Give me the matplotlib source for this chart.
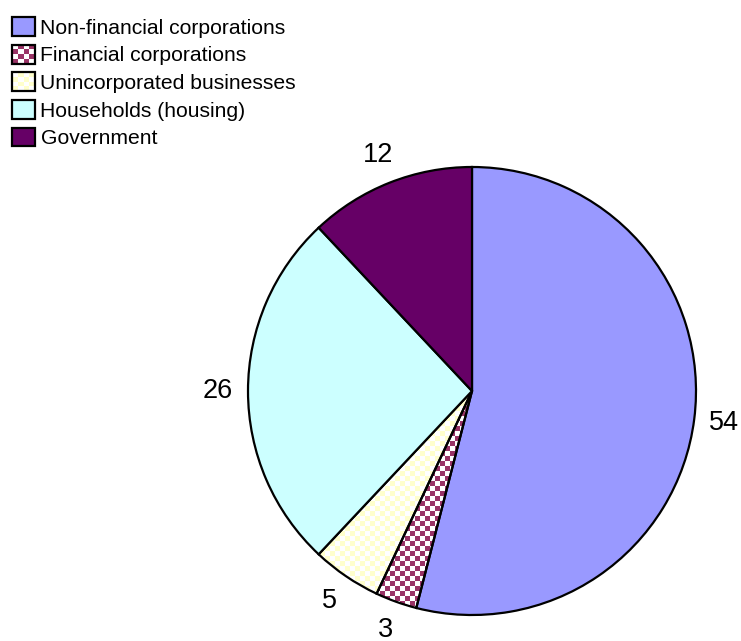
import numpy as np
import matplotlib
matplotlib.use("Agg")
import matplotlib.pyplot as plt
from matplotlib.patches import Patch, Rectangle
from matplotlib.legend_handler import HandlerBase
from matplotlib.colors import ListedColormap

plt.rcParams['font.family'] = ['Liberation Sans', 'DejaVu Sans']

categories = ['Non-financial corporations', 'Financial corporations',
              'Unincorporated businesses', 'Households (housing)', 'Government']
values = [54, 3, 5, 26, 12]
colors = ['#9999FF', '#993366', '#FFFFCC', '#CCFFFF', '#660066']
checker_bg = [None, '#FFFFFF', '#FFFFFF', None, None]

W, H = 741, 641
fig = plt.figure(figsize=(W / 100, H / 100), dpi=100)
ax = fig.add_axes([0, 0, 1, 1])
ax.set_xlim(0, W)
ax.set_ylim(0, H)
ax.set_aspect('equal')
ax.axis('off')

cx, cy, r = 472, H - 391, 224
wedges, _, autotexts = ax.pie(
    values, colors=colors, startangle=90, counterclock=False,
    center=(cx, cy), radius=r, frame=True,
    autopct=lambda p: f'{p:.0f}', pctdistance=1.135,
    wedgeprops=dict(edgecolor='black', linewidth=1.6),
    textprops=dict(fontsize=19.5, color='black'))

cell = 5
ny, nx = H // cell + 2, W // cell + 2
pattern = np.add.outer(np.arange(ny), np.arange(nx)) % 2
for w, col, bg in zip(wedges, colors, checker_bg):
    if bg is None:
        continue
    w.set_facecolor('none')
    im = ax.imshow(pattern, extent=(0, nx * cell, 0, ny * cell), origin='lower',
                   interpolation='nearest', cmap=ListedColormap([bg, col]),
                   zorder=0.5)
    im.set_clip_path(w)

ax.set_xlim(0, W)
ax.set_ylim(0, H)
ax.axis('off')


class CheckerHandler(HandlerBase):
    def __init__(self, color, bg, n=4):
        super().__init__()
        self.color, self.bg, self.n = color, bg, n

    def create_artists(self, legend, orig_handle, xdescent, ydescent,
                       width, height, fontsize, trans):
        x0, y0 = -xdescent, -ydescent
        arts = [Rectangle((x0, y0), width, height, facecolor=self.bg,
                          edgecolor='none', transform=trans)]
        cw, ch = width / self.n, height / self.n
        for i in range(self.n):
            for j in range(self.n):
                if (i + j) % 2 == 0:
                    arts.append(Rectangle((x0 + i * cw, y0 + j * ch), cw, ch,
                                          facecolor=self.color, edgecolor='none',
                                          transform=trans))
        arts.append(Rectangle((x0, y0), width, height, facecolor='none',
                              edgecolor='black', linewidth=1.6, transform=trans))
        return arts


handles = []
hmap = {}
for cat, col, bg in zip(categories, colors, checker_bg):
    p = Patch(facecolor=col, edgecolor='black', linewidth=1.6, label=cat)
    handles.append(p)
    if bg is not None:
        hmap[p] = CheckerHandler(col, bg)

leg = fig.legend(handles=handles, handler_map=hmap, loc='upper left',
                 bbox_to_anchor=(12 / W, 1 - 17 / H), frameon=False,
                 fontsize=15.2, handlelength=1.1, handleheight=1.0,
                 handletextpad=0.25, labelspacing=0.33, borderpad=0,
                 borderaxespad=0)

fig.savefig('out.png', dpi=100)
